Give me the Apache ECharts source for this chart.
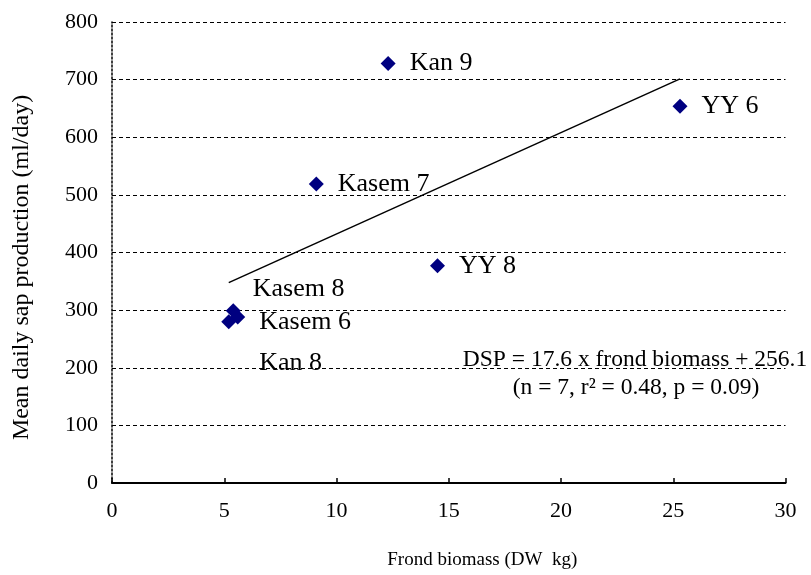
<!DOCTYPE html>
<html>
<head>
<meta charset="utf-8">
<script src="https://cdn.jsdelivr.net/npm/echarts@6/dist/echarts.min.js"></script>
<style>
  html, body { margin: 0; padding: 0; background: #fff; }
  #chart { width: 811px; height: 575px; }
</style>
</head>
<body>
<div id="chart"></div>
<script>
// Palm cultivars: frond biomass (DW kg) vs mean daily sap production (ml/day)
const cultivars = ['Kan 9', 'YY 6', 'Kasem 7', 'YY 8', 'Kasem 8', 'Kasem 6', 'Kan 8'];
const frondBiomass = [12.3, 25.3, 9.1, 14.5, 5.4, 5.6, 5.2];
const sapProduction = [728, 654, 519, 377, 299, 288, 280];

// Linear fit stated in the annotation
const slope = 17.6;
const intercept = 256.1;
const fitText = ['DSP = 17.6 x frond biomass + 256.1', '(n = 7, r\u00B2 = 0.48, p = 0.09)'];

const xTicks = { min: 0, max: 30, step: 5 };
const yTicks = { min: 0, max: 800, step: 100 };

// Per-label nudges so the clustered names don't collide
const labelOffsets = {
  'Kasem 8': [-2, -22],
  'Kasem 6': [0, 5],
  'Kan 8': [9, 42]
};

const serif = 'Liberation Serif, Times New Roman, serif';

const points = cultivars.map((name, i) => {
  const item = { name: name, value: [frondBiomass[i], sapProduction[i]] };
  if (labelOffsets[name]) item.label = { offset: labelOffsets[name] };
  return item;
});

const xMin = Math.min(...frondBiomass);
const xMax = Math.max(...frondBiomass);
const fitLine = [
  [xMin, slope * xMin + intercept],
  [xMax, slope * xMax + intercept]
];

const chart = echarts.init(document.getElementById('chart'), null, { renderer: 'canvas' });

chart.setOption({
  animation: false,
  backgroundColor: '#ffffff',
  grid: { left: 112, right: 25.5, top: 22, bottom: 91.5, containLabel: false },
  xAxis: {
    type: 'value',
    min: xTicks.min, max: xTicks.max, interval: xTicks.step,
    name: 'Frond biomass (DW  kg)',
    nameLocation: 'middle',
    nameGap: 68,
    nameTextStyle: { fontFamily: serif, fontSize: 19, color: '#000', padding: [0, 0, 0, 67] },
    axisLine: { show: true, lineStyle: { color: '#000', width: 2 } },
    axisTick: { show: true, inside: true, length: 5, lineStyle: { color: '#000', width: 1.5 } },
    axisLabel: { fontFamily: serif, fontSize: 22, color: '#000', margin: 17 },
    splitLine: { show: false }
  },
  yAxis: {
    type: 'value',
    min: yTicks.min, max: yTicks.max, interval: yTicks.step,
    name: 'Mean daily sap production (ml/day)',
    nameLocation: 'middle',
    nameGap: 78,
    nameTextStyle: { fontFamily: serif, fontSize: 24, color: '#000', padding: [0, 30, 0, 0] },
    axisLine: { show: true, lineStyle: { color: '#000', width: 1.5, type: [2, 2] } },
    axisTick: { show: false },
    axisLabel: { fontFamily: serif, fontSize: 22, color: '#000', margin: 14 },
    splitLine: { show: true, lineStyle: { color: '#000', width: 1, type: [4, 3] } }
  },
  series: [
    {
      type: 'line',
      data: fitLine,
      showSymbol: false,
      symbol: 'none',
      lineStyle: { color: '#000', width: 1.5 },
      silent: true,
      z: 2
    },
    {
      type: 'scatter',
      data: points,
      symbol: 'diamond',
      symbolSize: 15,
      itemStyle: { color: '#000080', opacity: 1 },
      label: {
        show: true,
        position: 'right',
        distance: 14,
        formatter: '{b}',
        fontFamily: serif,
        fontSize: 26,
        color: '#000',
        opacity: 1
      },
      z: 3
    }
  ],
  graphic: [
    {
      type: 'text',
      x: 635, y: 360,
      style: {
        text: fitText[0],
        align: 'center', verticalAlign: 'middle',
        fontFamily: serif, fontSize: 23.5, fill: '#000'
      },
      z: 10
    },
    {
      type: 'text',
      x: 636, y: 388,
      style: {
        text: fitText[1],
        align: 'center', verticalAlign: 'middle',
        fontFamily: serif, fontSize: 23.5, fill: '#000'
      },
      z: 10
    }
  ]
});
</script>
</body>
</html>
